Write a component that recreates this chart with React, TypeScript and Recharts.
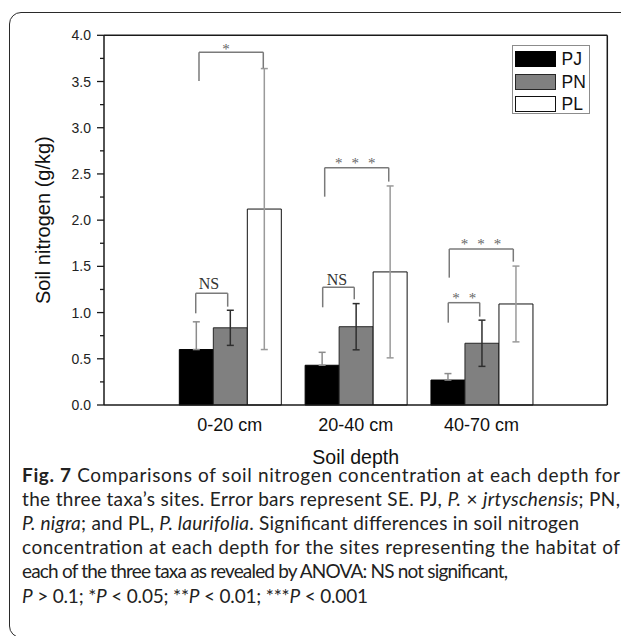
import React from 'react';
import {
  Bar,
  BarChart,
  ErrorBar,
  Legend,
  ReferenceDot,
  ReferenceLine,
  XAxis,
  YAxis,
} from 'recharts';

// soil depth classes, placed at 1, 2, 3 on a 0–4 axis
const depths = ['0-20 cm', '20-40 cm', '40-70 cm'];
const depthPos = [1, 2, 3];
// mean soil nitrogen (g/kg) and SE per taxon
const pjMean = [0.6, 0.43, 0.27];
const pjSE = [0.3, 0.14, 0.07];
const pnMean = [0.835, 0.847, 0.668];
const pnSE = [0.19, 0.25, 0.25];
const plMean = [2.12, 1.44, 1.093];
const plSE = [1.52, 0.93, 0.41];

const yTicks = [0, 0.25, 0.5, 0.75, 1, 1.25, 1.5, 1.75, 2, 2.25, 2.5, 2.75, 3, 3.25, 3.5, 3.75, 4];

// significance brackets, in x-axis units (group centres at 1, 2, 3)
const brackets = [
  { x1: 0.755, x2: 1.266, top: 3.817, left: 3.506, right: 3.644, text: '*', tx: 0.97, ty: 3.867 },
  { x1: 0.729, x2: 0.983, top: 1.209, left: 0.992, right: 1.064, text: 'NS', tx: 0.834, ty: 1.317 },
  { x1: 1.738, x2: 1.989, top: 1.274, left: 1.057, right: 1.144, text: 'NS', tx: 1.852, ty: 1.364 },
  { x1: 1.754, x2: 2.263, top: 2.568, left: 2.254, right: 2.417, text: '***', tx: 1.997, ty: 2.627 },
  { x1: 2.744, x2: 3.253, top: 1.688, left: 1.378, right: 1.551, text: '***', tx: 2.996, ty: 1.756 },
  { x1: 2.736, x2: 2.986, top: 1.107, left: 0.891, right: 0.956, text: '**', tx: 2.863, ty: 1.166 },
];

const series = [
  { key: 'PJ', err: 'PJerr', fill: '#000000', stroke: '#000000', errColor: '#8c8c8c' },
  { key: 'PN', err: 'PNerr', fill: '#808080', stroke: '#262626', errColor: '#2e2e2e' },
  { key: 'PL', err: 'PLerr', fill: '#ffffff', stroke: '#111111', errColor: '#9a9a9a' },
];

const data = depths.map((depth, i) => ({
  depth,
  pos: depthPos[i],
  PJ: pjMean[i],
  PN: pnMean[i],
  PL: plMean[i],
  // lower half of the PJ bar is hidden inside the black bar
  PJerr: [0, pjSE[i]],
  PNerr: pnSE[i],
  PLerr: plSE[i],
}));

const SANS = '"Liberation Sans", Arial, sans-serif';
const SERIF = '"Liberation Serif", "Times New Roman", serif';
const BRACKET = '#7a7a7a';
const FRAME = '#1a1a1a';

const YTick = (props: any) => {
  const { x, y, payload } = props;
  const v = payload.value as number;
  const major = Math.abs(v * 2 - Math.round(v * 2)) < 1e-6;
  return (
    <g>
      <line x1={x - (major ? 7 : 4)} x2={x} y1={y} y2={y} stroke={FRAME} strokeWidth={1.3} />
      {major && (
        <text x={x - 13} y={y} dy="0.36em" textAnchor="end" fontFamily={SANS} fontSize={14} fill="#222">
          {v.toFixed(1)}
        </text>
      )}
    </g>
  );
};

const YLabel = (props: any) => {
  const { viewBox } = props;
  const cx = viewBox.x - 1;
  const cy = viewBox.y + viewBox.height / 2;
  return (
    <text
      x={cx}
      y={cy}
      dy="0.36em"
      transform={`rotate(-90, ${cx}, ${cy})`}
      textAnchor="middle"
      fontFamily={SANS}
      fontSize={20}
      fill="#111"
    >
      Soil nitrogen (g/kg)
    </text>
  );
};

const XLabel = (props: any) => {
  const { viewBox } = props;
  return (
    <text
      x={viewBox.x + viewBox.width / 2}
      y={viewBox.y + 52}
      dy="0.36em"
      textAnchor="middle"
      fontFamily={SANS}
      fontSize={19.5}
      fill="#111"
    >
      Soil depth
    </text>
  );
};

const SigMark = ({ cx, cy, text }: any) => {
  if (text === 'NS') {
    return (
      <text x={cx} y={cy} dy="0.36em" textAnchor="middle" fontFamily={SERIF} fontSize={16} fill="#333">
        NS
      </text>
    );
  }
  const n = text.length;
  return (
    <g>
      {text.split('').map((s: string, i: number) => (
        <text
          key={i}
          x={cx + (i - (n - 1) / 2) * 16.5}
          y={cy + 6}
          textAnchor="middle"
          fontFamily={SERIF}
          fontSize={15}
          fill="#666"
        >
          {s}
        </text>
      ))}
    </g>
  );
};

const renderLegend = () => (
  <div
    style={{
      border: '1px solid #8c8c8c',
      width: 78,
      height: 69,
      boxSizing: 'border-box',
      padding: '2px 0 0 2px',
      background: '#fff',
    }}
  >
    {series.map((s) => (
      <div key={s.key} style={{ display: 'flex', alignItems: 'center', height: 22.4 }}>
        <span
          style={{
            display: 'inline-block',
            width: 41,
            height: 16,
            boxSizing: 'border-box',
            background: s.fill,
            border: `1px solid ${s.stroke}`,
          }}
        />
        <span style={{ marginLeft: 6, fontFamily: SANS, fontSize: 17.5, color: '#111', lineHeight: '16px' }}>
          {s.key}
        </span>
      </div>
    ))}
  </div>
);

// caption lines with the width each spans in the figure
const CAP_FONT = 'Lato, "Open Sans", sans-serif';
const captionWidths = [598, 598, 557, 598, 486, 346];

const Caption = () => {
  const top = 455;
  const base = 482;
  const step = 24.1;
  const it = { fontStyle: 'italic' as const };
  const lines: React.ReactNode[] = [
    <>
      <tspan fontWeight="bold">Fig. 7</tspan> Comparisons of soil nitrogen concentration at each depth for
    </>,
    <>
      the three taxa’s sites. Error bars represent SE. PJ, <tspan style={it}>P.</tspan> ×{' '}
      <tspan style={it}>jrtyschensis</tspan>; PN,
    </>,
    <>
      <tspan style={it}>P. nigra</tspan>; and PL, <tspan style={it}>P. laurifolia</tspan>. Significant differences in
      soil nitrogen
    </>,
    <>concentration at each depth for the sites representing the habitat of</>,
    <>each of the three taxa as revealed by ANOVA: NS not significant,</>,
    <>
      <tspan style={it}>P</tspan> &gt; 0.1; *<tspan style={it}>P</tspan> &lt; 0.05; **<tspan style={it}>P</tspan> &lt;
      0.01; ***<tspan style={it}>P</tspan> &lt; 0.001
    </>,
  ];
  return (
    <svg width={629} height={636 - top} style={{ position: 'absolute', left: 0, top }}>
      {lines.map((ln, i) => (
        <text
          key={i}
          x={22}
          y={base + step * i - top}
          fontFamily={CAP_FONT}
          fontSize={19}
          fill="#222"
          textLength={captionWidths[i]}
          lengthAdjust="spacing"
        >
          {ln}
        </text>
      ))}
    </svg>
  );
};

const App: React.FC = () => {
  return (
    <div
      style={{
        position: 'relative',
        width: 629,
        height: 636,
        margin: '-8px 0 0 -8px',
        overflow: 'hidden',
        background: '#fff',
      }}
    >
      <div
        style={{
          position: 'absolute',
          left: 9,
          top: 12,
          width: 624,
          height: 626,
          border: '1.5px solid #2a2a2a',
          borderRadius: 12,
          boxSizing: 'border-box',
        }}
      />
      <div style={{ position: 'absolute', left: 0, top: 0 }}>
        <BarChart
          width={629}
          height={475}
          data={data}
          margin={{ top: 35.3, right: 21.7, bottom: 40, left: 44 }}
          barCategoryGap={12.4}
          barGap={0}
        >
          <XAxis
            dataKey="pos"
            type="number"
            domain={[0, 4]}
            allowDataOverflow
            ticks={depthPos}
            interval={0}
            tickFormatter={(v: number) => depths[depthPos.indexOf(v)] ?? ''}
            tickLine={false}
            tickSize={0}
            tickMargin={13}
            axisLine={{ stroke: FRAME, strokeWidth: 1.5 }}
            tick={{ fontFamily: SANS, fontSize: 18, fill: '#111' }}
            label={<XLabel />}
            height={30}
          />
          <YAxis
            domain={[0, 4]}
            ticks={yTicks}
            interval={0}
            width={60}
            tickLine={false}
            tickSize={0}
            tickMargin={0}
            axisLine={{ stroke: FRAME, strokeWidth: 1.5 }}
            tick={(p: any) => <YTick {...p} />}
            label={<YLabel />}
          />
          {/* top and right edges of the plot frame */}
          <ReferenceLine y={4} stroke={FRAME} strokeWidth={1.5} ifOverflow="visible" />
          <ReferenceLine x={4} stroke={FRAME} strokeWidth={1.5} ifOverflow="visible" />
          <Legend
            layout="vertical"
            align="center"
            verticalAlign="middle"
            content={renderLegend}
            wrapperStyle={{ position: 'absolute', left: 511.5, top: 45.3, width: 'auto', height: 'auto' }}
          />
          {series.map((s) => (
            <Bar
              key={s.key}
              dataKey={s.key}
              name={s.key}
              fill={s.fill}
              stroke={s.stroke}
              strokeWidth={1}
              isAnimationActive={false}
            >
              <ErrorBar dataKey={s.err} width={3.5} stroke={s.errColor} strokeWidth={1.5} />
            </Bar>
          ))}
          {brackets.flatMap((b, i) => [
            <ReferenceLine
              key={`bl${i}`}
              segment={[{ x: b.x1, y: b.left }, { x: b.x1, y: b.top }]}
              stroke={BRACKET}
              strokeWidth={1.5}
              ifOverflow="visible"
            />,
            <ReferenceLine
              key={`bt${i}`}
              segment={[{ x: b.x1, y: b.top }, { x: b.x2, y: b.top }]}
              stroke={BRACKET}
              strokeWidth={1.5}
              ifOverflow="visible"
            />,
            <ReferenceLine
              key={`br${i}`}
              segment={[{ x: b.x2, y: b.top }, { x: b.x2, y: b.right }]}
              stroke={BRACKET}
              strokeWidth={1.5}
              ifOverflow="visible"
            />,
            <ReferenceDot
              key={`bd${i}`}
              x={b.tx}
              y={b.ty}
              r={0}
              ifOverflow="visible"
              shape={(p: any) => <SigMark cx={p.cx} cy={p.cy} text={b.text} />}
            />,
          ])}
        </BarChart>
      </div>
      <Caption />
    </div>
  );
};

export default App;
